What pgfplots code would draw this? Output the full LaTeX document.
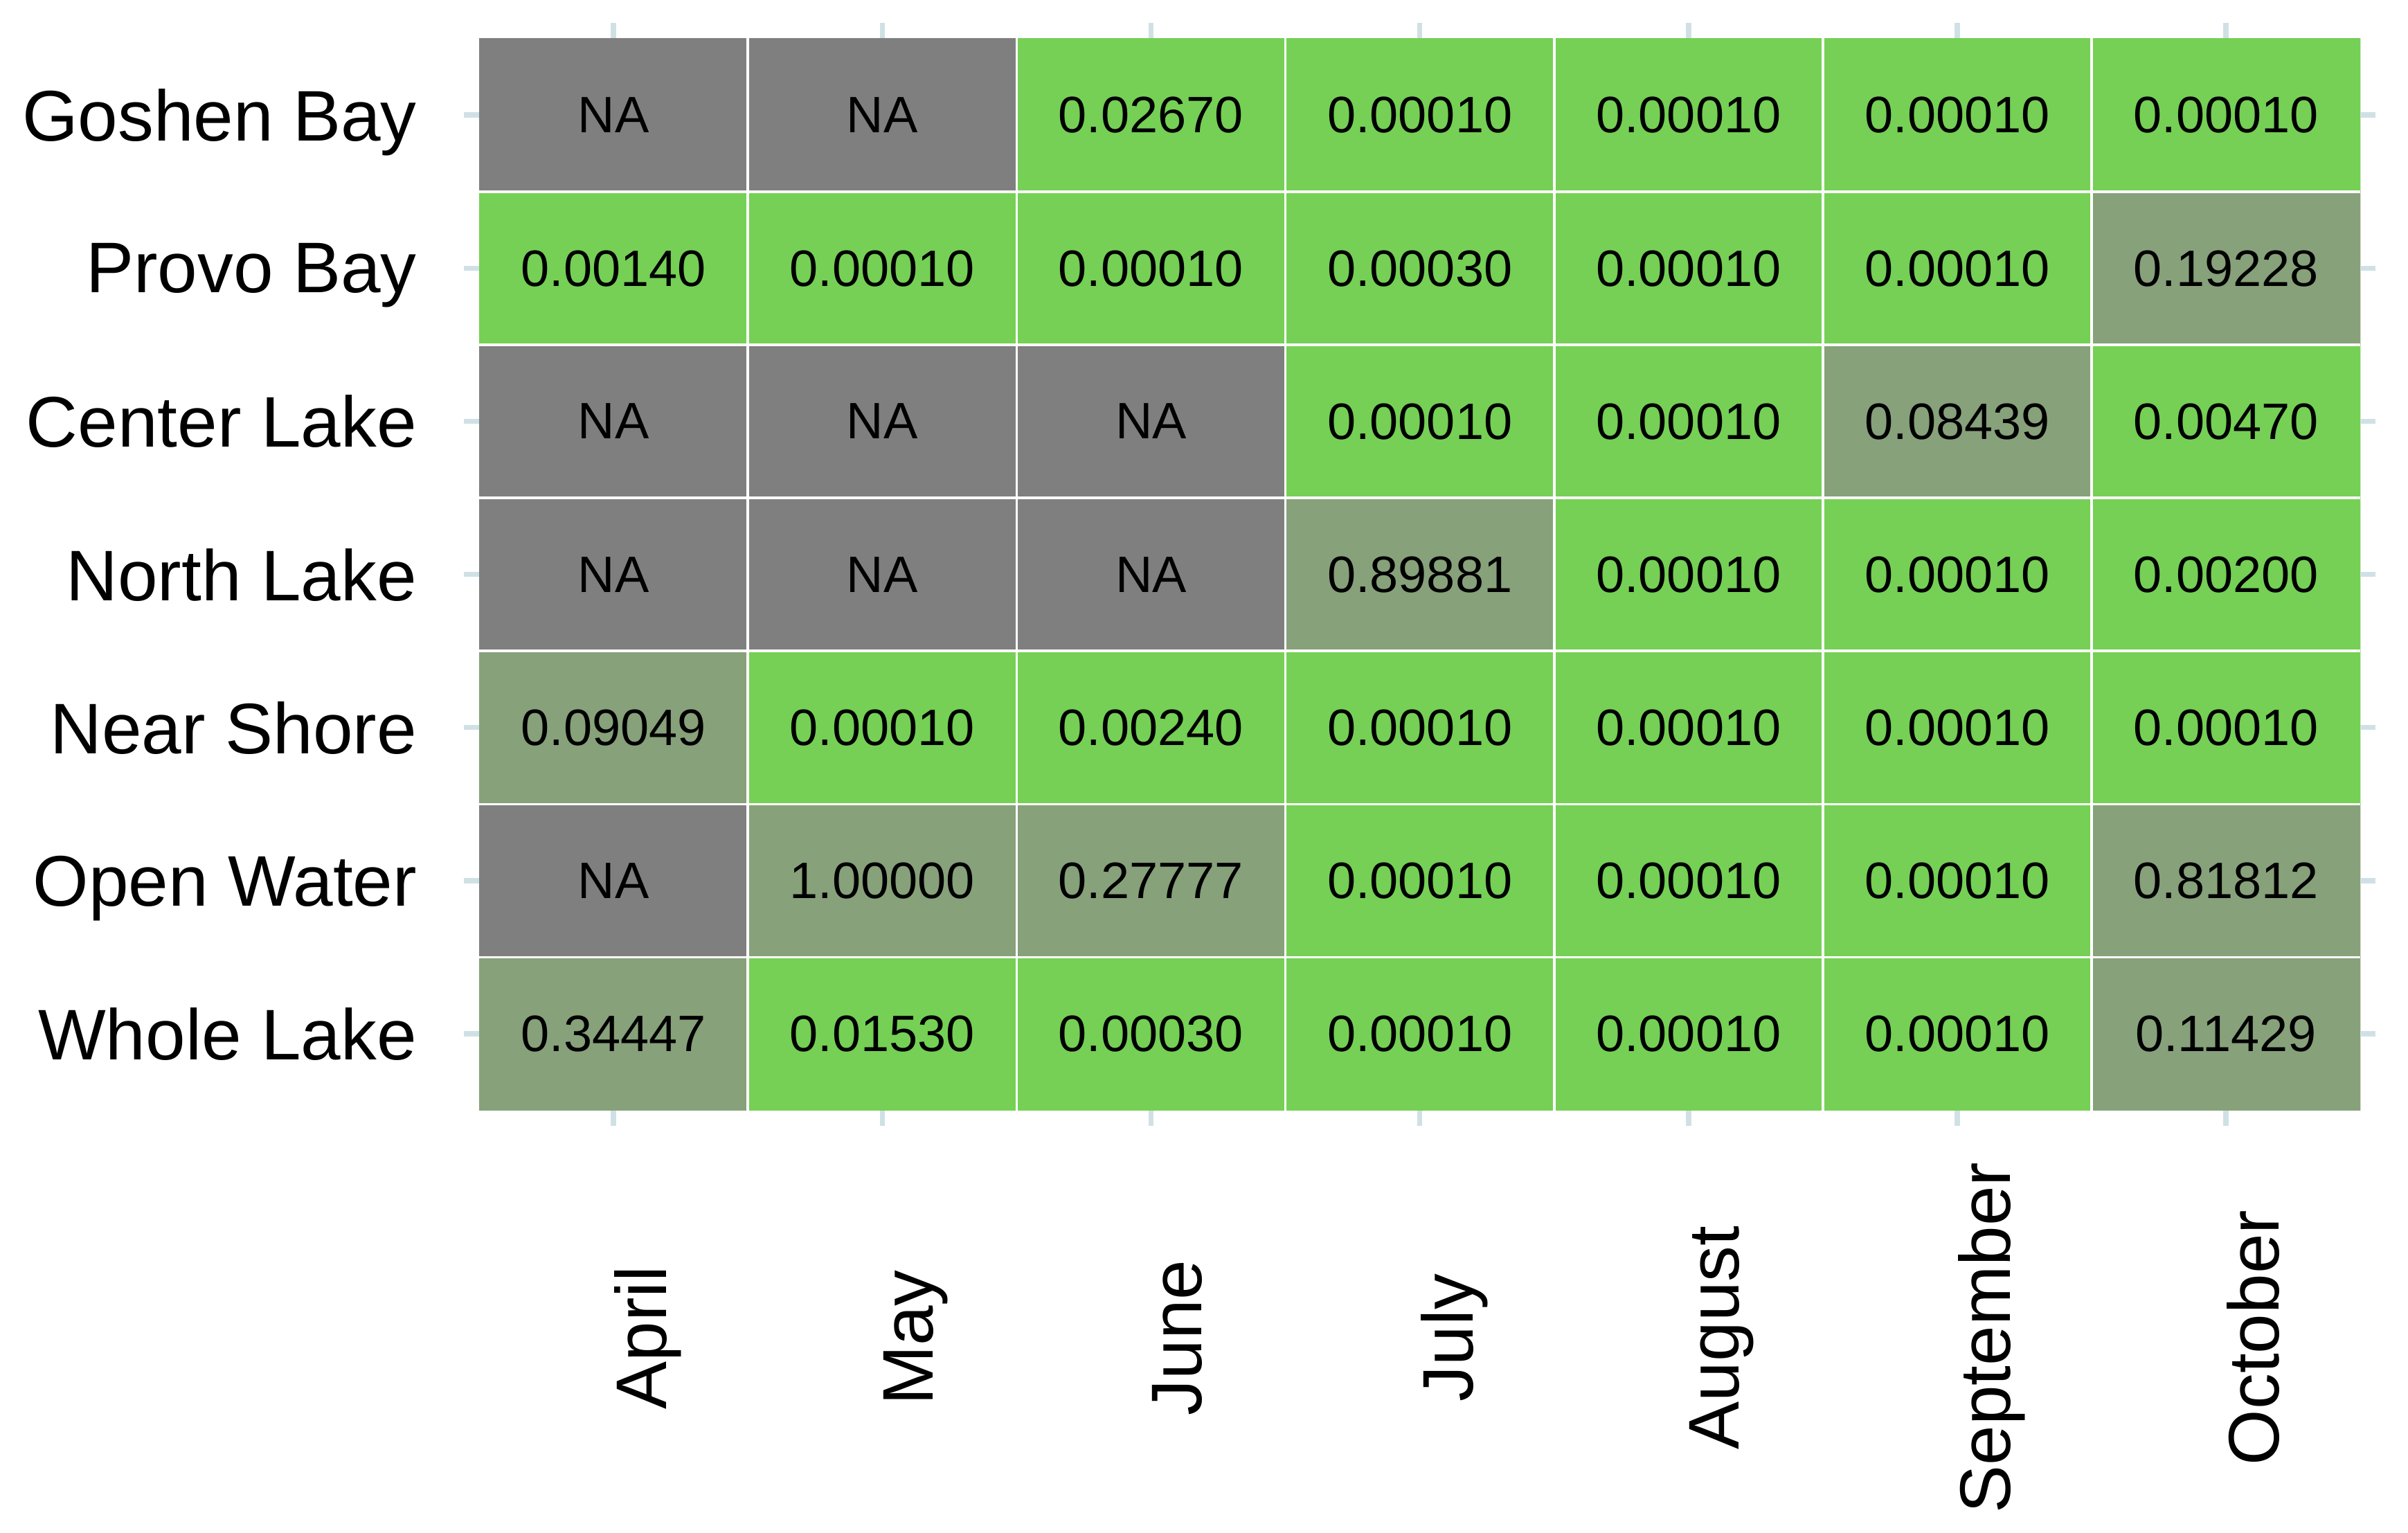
\documentclass[border=0pt]{standalone}
\usepackage{pgfplots}
\usepackage{pgfplotstable}
\pgfplotsset{compat=1.18}
\usepackage{fontspec}
\setmainfont{Liberation Sans}

\definecolor{tickblue}{RGB}{208,225,230}

% c: 0 = NA, 1 = p >= 0.05, 2 = p < 0.05
\pgfplotstableread{
x y c label
0 0 0 NA
1 0 0 NA
2 0 2 0.02670
3 0 2 0.00010
4 0 2 0.00010
5 0 2 0.00010
6 0 2 0.00010
0 1 2 0.00140
1 1 2 0.00010
2 1 2 0.00010
3 1 2 0.00030
4 1 2 0.00010
5 1 2 0.00010
6 1 1 0.19228
0 2 0 NA
1 2 0 NA
2 2 0 NA
3 2 2 0.00010
4 2 2 0.00010
5 2 1 0.08439
6 2 2 0.00470
0 3 0 NA
1 3 0 NA
2 3 0 NA
3 3 1 0.89881
4 3 2 0.00010
5 3 2 0.00010
6 3 2 0.00200
0 4 1 0.09049
1 4 2 0.00010
2 4 2 0.00240
3 4 2 0.00010
4 4 2 0.00010
5 4 2 0.00010
6 4 2 0.00010
0 5 0 NA
1 5 1 1.00000
2 5 1 0.27777
3 5 2 0.00010
4 5 2 0.00010
5 5 2 0.00010
6 5 1 0.81812
0 6 1 0.34447
1 6 2 0.01530
2 6 2 0.00030
3 6 2 0.00010
4 6 2 0.00010
5 6 2 0.00010
6 6 1 0.11429
}\pvals

\begin{document}
\begin{tikzpicture}
\path[use as bounding box] (0,0) rectangle (470.4pt,299.4pt);
\begin{axis}[
at={(93.6pt,82.5pt)}, anchor=south west,
scale only axis, width=367.5pt, height=209.4pt,
xmin=-0.5, xmax=6.5, ymin=-0.5, ymax=6.5,
y dir=reverse,
axis line style={draw=none},
xtick={0,...,6}, ytick={0,...,6},
xticklabels={April,May,June,July,August,September,October},
yticklabels={Goshen Bay,Provo Bay,Center Lake,North Lake,Near Shore,Open Water,Whole Lake},
tick align=outside, tick pos=both,
xticklabel pos=lower, yticklabel pos=left,
major tick length=3pt,
major tick style={tickblue, line width=1pt},
minor xtick={0.5,1.5,...,5.5}, minor ytick={0.5,1.5,...,5.5},
minor tick length=0pt,
minor grid style={white, line width=0.5pt},
xminorgrids, yminorgrids,
axis on top,
ticklabel style={font=\fontsize{14}{16}\selectfont, text=black},
xticklabel style={rotate=90, anchor=north, inner sep=0pt},
xticklabel shift=41.4pt,
yticklabel style={anchor=east, inner sep=0pt, text depth=0pt},
yticklabel shift=9pt,
colormap={pcat}{rgb255=(127,127,127) rgb255=(135,161,122) rgb255=(117,208,85)},
colormap access=direct,
]
\addplot[matrix plot*, mesh/cols=7, mesh/rows=7, point meta=explicit]
  table[x=x, y=y, meta=c] {\pvals};
\addplot[only marks, mark=none, point meta=explicit symbolic,
  nodes near coords, nodes near coords align=center,
  every node near coord/.append style={font=\fontsize{10}{12}\selectfont,
    inner sep=0pt, text depth=0pt, text=black}]
  table[x=x, y=y, meta=label] {\pvals};
\end{axis}
\end{tikzpicture}
\end{document}
